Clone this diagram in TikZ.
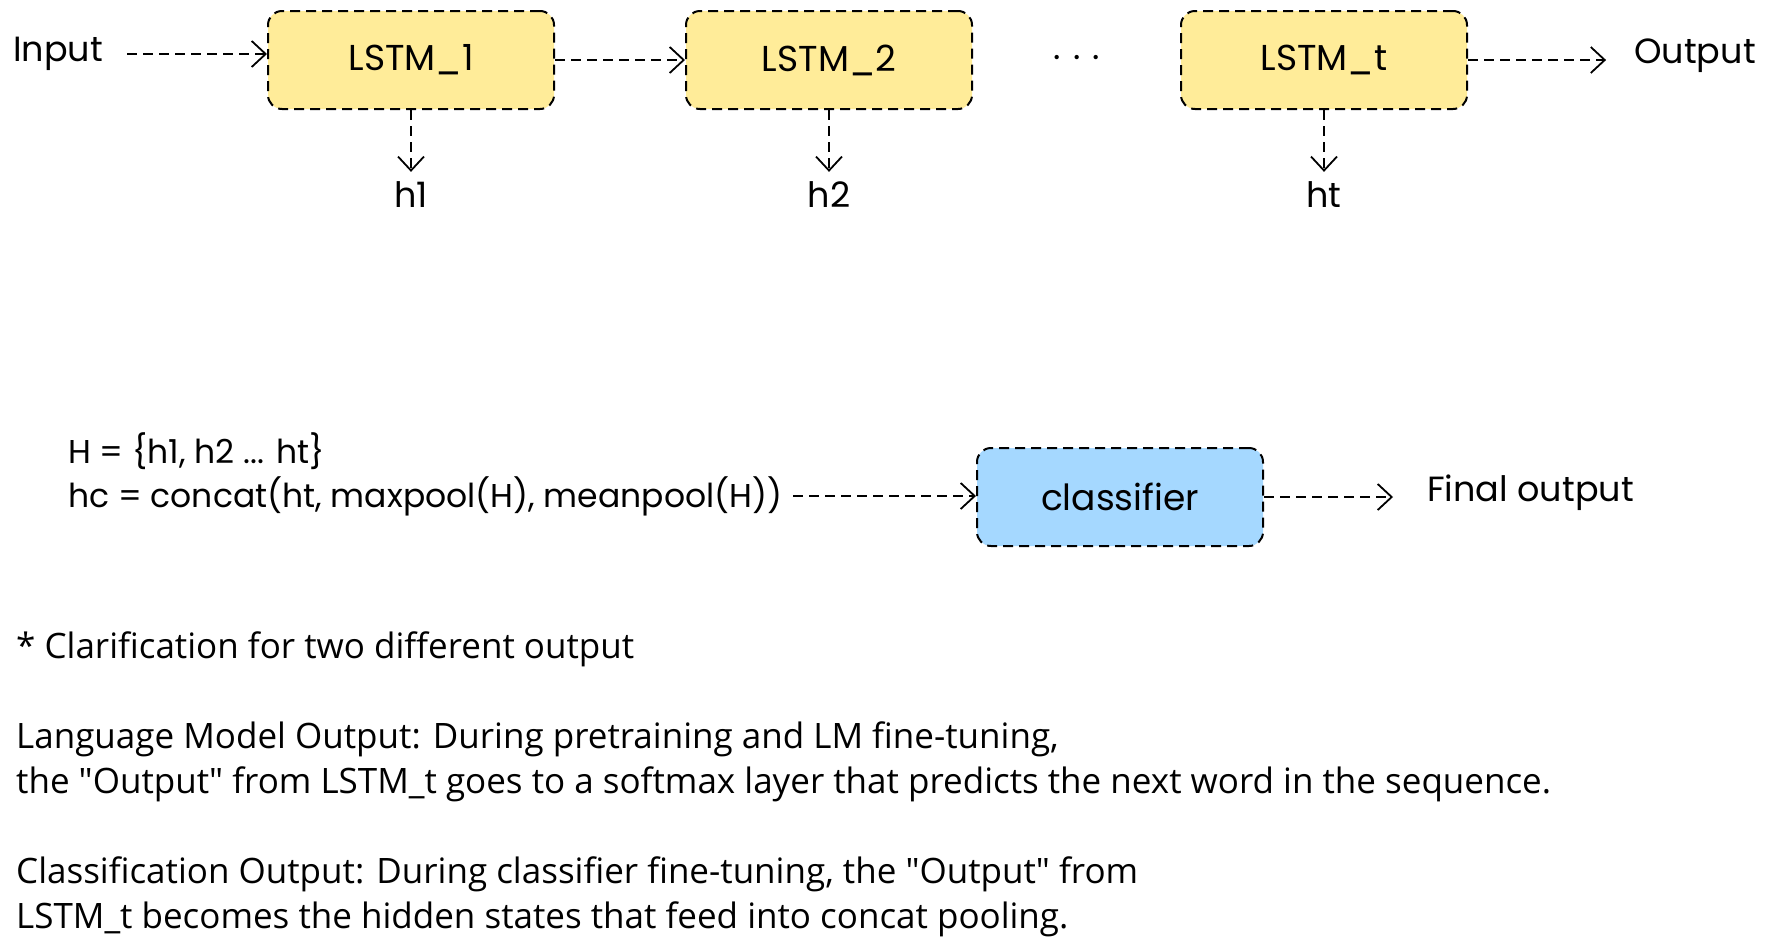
\documentclass[tikz,border=0pt]{standalone}
\usepackage{fontspec}
\setmainfont{Open Sans}
\newfontfamily\handfont{Poppins}
\usepackage{xcolor}
\usepackage{tikz}
\usetikzlibrary{arrows.meta}

\definecolor{cellyellow}{HTML}{FFEC99}
\definecolor{cellblue}{HTML}{A5D8FF}

\begin{document}
\begin{tikzpicture}[x=1pt, y=-1pt,
    cell/.style={draw, line width=2pt, dash pattern=on 10pt off 6pt, rounded corners=14pt,
        minimum width=286pt, minimum height=98pt, font=\handfont\fontsize{36}{40}\selectfont},
    hand/.style={inner sep=0pt, font=\handfont\fontsize{35}{40}\selectfont},
    formula/.style={anchor=west, inner sep=0pt, font=\handfont\fontsize{33}{38}\selectfont},
    note/.style={anchor=west, inner sep=0pt, font=\fontsize{35}{40}\selectfont},
    flow/.style={line width=1.7pt, dash pattern=on 10pt off 6pt,
        -{Straight Barb[length=14pt,width=26pt,line width=1.8pt]}}]
    \useasboundingbox (0,0) rectangle (1769,951);

    % LSTM chain
    \node[hand] (input) at (58,54) {Input};
    \node[cell, fill=cellyellow] (lstm1) at (411,60) {LSTM\_1};
    \node[cell, fill=cellyellow] (lstm2) at (829,60) {LSTM\_2};
    \node[hand] (dots) at (1077,58) {.\hspace{12pt}.\hspace{12pt}.};
    \node[hand] (output) at (1695,56) {Output};
    \node[cell, fill=cellyellow] (lstmt) at (1324,60) {LSTM\_t};

    \draw[flow, shorten <=24pt] (input.east) -- (input.east -| lstm1.west);
    \draw[flow] (lstm1.east) -- (lstm2.west);
    \draw[flow, shorten >=28pt] (lstmt.east) -- (lstmt.east -| output.west);

    % hidden states
    \node[hand] (h1) at (411,195) {h1};
    \node[hand] (h2) at (829,195) {h2};
    \node[hand] (ht) at (1324,195) {ht};
    \foreach \c/\h in {lstm1/h1, lstm2/h2, lstmt/ht}
        \draw[flow, shorten >=10pt] (\c.south) -- (\h.north);

    % pooling and classifier
    \node[formula] (hset) at (68,451) {H = \{h1, h2 ... ht\}};
    \node[formula] (hc) at (68,496) {hc = concat(ht, maxpool(H), meanpool(H))};
    \node[cell, fill=cellblue] (clf) at (1120,497) {classifier};
    \node[hand, anchor=west] (final) at (1427,493) {Final output};

    \draw[flow, shorten <=11pt] (hc.east) -- (hc.east -| clf.west);
    \draw[flow, shorten >=34pt] (clf.east) -- (clf.east -| final.west);

    % notes
    \node[note] (n0) at (16,649) {* Clarification for two different output};
    \node[note] (n1) at (16,739) {Language Model Output: During pretraining and LM fine-tuning,};
    \node[note] (n2) at (16,784) {the \textquotedbl Output\textquotedbl{} from LSTM\_t goes to a softmax layer that predicts the next word in the sequence.};
    \node[note] (n3) at (16,874) {Classification Output: During classifier fine-tuning, the \textquotedbl Output\textquotedbl{} from};
    \node[note] (n4) at (16,919) {LSTM\_t becomes the hidden states that feed into concat pooling.};
\end{tikzpicture}
\end{document}
